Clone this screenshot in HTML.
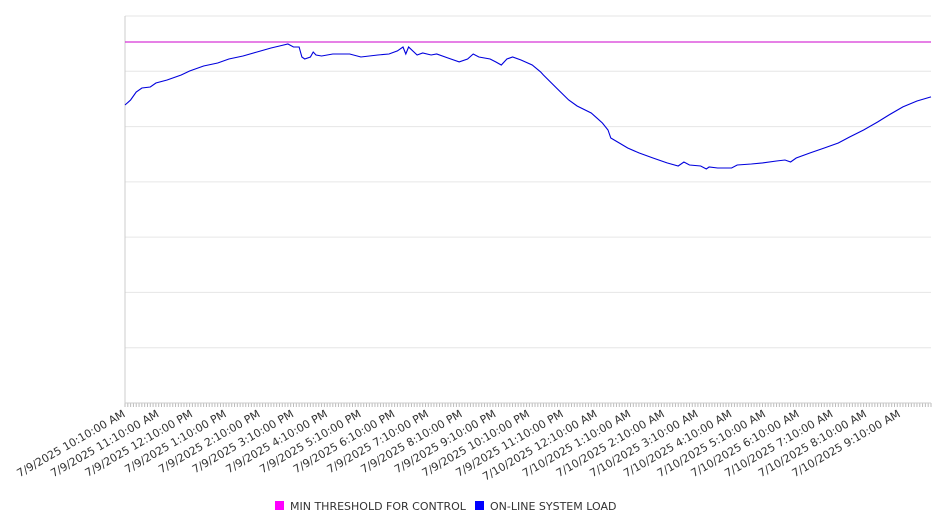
<!DOCTYPE html>
<html><head><meta charset="utf-8"><style>
body{margin:0;background:#fff;}
svg{font-family:"DejaVu Sans","Liberation Sans",sans-serif;}
</style></head><body>
<svg id="chart" width="946" height="526"></svg>
<script>
const tickLabels=["7/9/2025 10:10:00 AM","7/9/2025 11:10:00 AM","7/9/2025 12:10:00 PM","7/9/2025 1:10:00 PM","7/9/2025 2:10:00 PM","7/9/2025 3:10:00 PM","7/9/2025 4:10:00 PM","7/9/2025 5:10:00 PM","7/9/2025 6:10:00 PM","7/9/2025 7:10:00 PM","7/9/2025 8:10:00 PM","7/9/2025 9:10:00 PM","7/9/2025 10:10:00 PM","7/9/2025 11:10:00 PM","7/10/2025 12:10:00 AM","7/10/2025 1:10:00 AM","7/10/2025 2:10:00 AM","7/10/2025 3:10:00 AM","7/10/2025 4:10:00 AM","7/10/2025 5:10:00 AM","7/10/2025 6:10:00 AM","7/10/2025 7:10:00 AM","7/10/2025 8:10:00 AM","7/10/2025 9:10:00 AM"];
const loadMinutes=[0,10,20,30,45,55,75,100,115,140,165,185,210,235,260,275,290,300,310,315,320,330,335,340,350,370,400,420,450,470,485,495,500,505,520,530,545,555,575,595,610,620,630,650,660,670,680,690,705,725,740,745,770,790,805,830,840,850,860,865,880,895,915,940,965,985,995,1005,1025,1035,1040,1055,1080,1090,1115,1135,1160,1175,1185,1195,1220,1245,1270,1290,1315,1340,1360,1385,1410,1435];
const loadValues=[5390,5481,5626,5698,5716,5788,5842,5933,6005,6096,6150,6223,6277,6349,6422,6458,6494,6440,6440,6259,6223,6259,6349,6295,6277,6313,6313,6259,6295,6313,6368,6440,6313,6440,6295,6331,6295,6313,6241,6169,6223,6313,6259,6223,6169,6114,6223,6259,6205,6114,5988,5933,5680,5481,5372,5246,5156,5065,4938,4794,4703,4613,4523,4432,4342,4287,4360,4305,4287,4233,4269,4251,4251,4305,4323,4342,4378,4396,4360,4432,4523,4613,4703,4812,4938,5083,5210,5355,5463,5536,5608];
const thresholdValue=6530;
const yMax=7000, yStep=1000, totalMin=1435;
const L=125,R=931,T=16,B=403;
const xs=m=>L+m/totalMin*(R-L);
const ys=v=>B-v/yMax*(B-T);
const NS="http://www.w3.org/2000/svg";
const svg=document.getElementById('chart');
function mk(tag,attrs,parent){const e=document.createElementNS(NS,tag);for(const k in attrs)e.setAttribute(k,attrs[k]);(parent||svg).appendChild(e);return e;}
const grid=mk('g',{});


for(let v=yStep;v<=yMax;v+=yStep){const l=mk('line',{x1:L,x2:R,y1:ys(v),y2:ys(v),stroke:'#e6e6e6','stroke-width':1},grid);

}
const ticks=mk('g',{});


for(let m=0;m<=totalMin;m+=5){mk('line',{x1:xs(m),x2:xs(m),y1:B,y2:B+4,stroke:'#bbb','stroke-width':1},ticks);}
const ax=mk('path',{d:`M${L} ${T}V${B}H${R}`,fill:'none',stroke:'#ccc','stroke-width':1});


const lg=mk('g',{});


tickLabels.forEach((t,i)=>{const x=xs(i*60);const tx=mk('text',{x:x+1,y:B+13,'font-size':11,fill:'#333','text-anchor':'end',transform:`rotate(-30 ${x+1} ${B+13})`},lg);tx.textContent=t;

});
const th=mk('line',{x1:L,x2:R,y1:ys(thresholdValue),y2:ys(thresholdValue),stroke:'#cc00cc','stroke-width':1});


const pts=loadMinutes.map((m,i)=>xs(m).toFixed(1)+','+ys(loadValues[i]).toFixed(1)).join(' ');
const ln=mk('polyline',{points:pts,fill:'none',stroke:'#0000dd','stroke-width':1.1});


const leg=mk('g',{});


const e1=mk('g',{},leg);


mk('rect',{x:275,y:501,width:9,height:9,fill:'#ff00ff'},e1);
const t1=mk('text',{x:290,y:510,'font-size':11,fill:'#333'},e1);t1.textContent='MIN THRESHOLD FOR CONTROL';
const e2=mk('g',{},leg);


mk('rect',{x:475,y:501,width:9,height:9,fill:'#0000ff'},e2);
const t2=mk('text',{x:490,y:510,'font-size':11,fill:'#333'},e2);t2.textContent='ON-LINE SYSTEM LOAD';
</script>
</body></html>
